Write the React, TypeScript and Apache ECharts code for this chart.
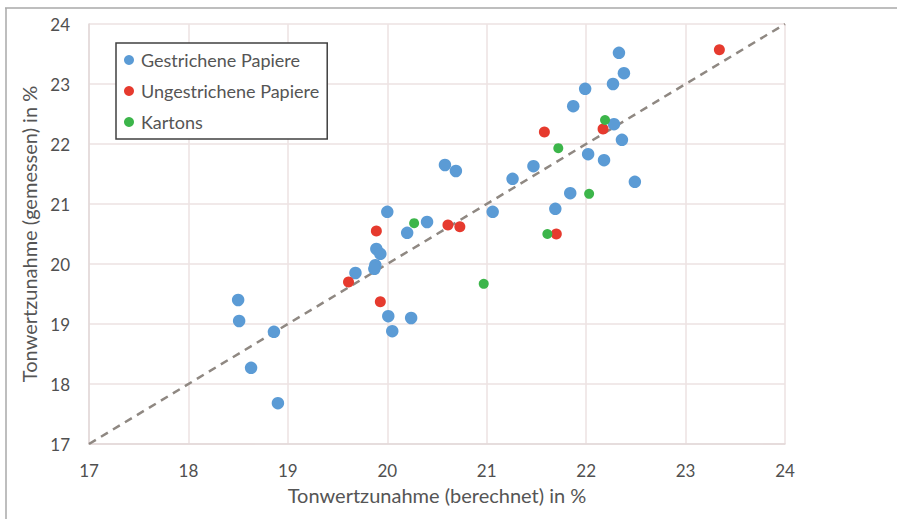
import React, { useEffect, useRef } from "react";
import * as echarts from "echarts";

const xTicks = [17, 18, 19, 20, 21, 22, 23, 24];
const seriesNames = ["Gestrichene Papiere", "Ungestrichene Papiere", "Kartons"];

const gestricheneX = [22.33, 22.38, 22.27, 21.99, 21.87, 22.28, 22.36, 22.02, 22.18, 22.49, 21.47, 21.26, 21.84, 21.69, 21.06, 20.58, 20.69, 20.0, 20.4, 20.2, 19.89, 19.93, 19.88, 19.87, 19.68, 18.5, 18.51, 18.86, 18.63, 18.9, 20.01, 20.24, 20.05];
const gestricheneY = [23.52, 23.18, 23.0, 22.92, 22.63, 22.33, 22.07, 21.83, 21.73, 21.37, 21.63, 21.42, 21.18, 20.92, 20.87, 21.65, 21.55, 20.87, 20.7, 20.52, 20.25, 20.17, 19.98, 19.92, 19.85, 19.4, 19.05, 18.87, 18.27, 17.68, 19.13, 19.1, 18.88];

const ungestricheneX = [23.34, 21.58, 22.17, 19.89, 20.61, 20.73, 21.7, 19.61, 19.93];
const ungestricheneY = [23.57, 22.2, 22.25, 20.55, 20.65, 20.62, 20.5, 19.7, 19.37];

const kartonsX = [22.19, 21.72, 22.03, 21.61, 20.27, 20.97];
const kartonsY = [22.4, 21.93, 21.17, 20.5, 20.68, 19.67];

const diagonal = [17, 24];

const zip = (xs: number[], ys: number[]) => xs.map((x, i) => [x, ys[i]]);

export default function App() {
  const ref = useRef<HTMLDivElement>(null);
  useEffect(() => {
    if (!ref.current) return;
    const chart = echarts.init(ref.current, null, { renderer: "svg" });
    const font = "Lato";
    const gridColor = "#ece2e2";
    chart.setOption({
      animation: false,
      backgroundColor: "#ffffff",
      textStyle: { fontFamily: font },
      grid: { left: 89, top: 24, width: 696, height: 420, containLabel: false },
      xAxis: {
        type: "value",
        min: xTicks[0],
        max: xTicks[xTicks.length - 1],
        interval: 1,
        name: "Tonwertzunahme (berechnet) in %",
        nameLocation: "middle",
        nameGap: 41,
        nameTextStyle: { fontSize: 20, color: "#555555", fontFamily: font },
        axisLine: { lineStyle: { color: "#e2d8d8", width: 1.5 } },
        axisTick: { show: false },
        axisLabel: { fontSize: 17, color: "#505050", margin: 18, fontFamily: font },
        splitLine: { lineStyle: { color: gridColor, width: 1.5 } },
      },
      yAxis: {
        type: "value",
        min: 17,
        max: 24,
        interval: 1,
        name: "Tonwertzunahme (gemessen) in %",
        nameLocation: "middle",
        nameGap: 46,
        nameTextStyle: { fontSize: 20, color: "#555555", fontFamily: font },
        axisLine: { show: true, lineStyle: { color: "#e2d8d8", width: 1.5 } },
        axisTick: { show: false },
        axisLabel: { fontSize: 17, color: "#505050", margin: 19, fontFamily: font },
        splitLine: { lineStyle: { color: gridColor, width: 1.5 } },
      },
      legend: {
        orient: "vertical",
        left: 116,
        top: 43,
        padding: [8, 8, 8, 8],
        itemGap: 13,
        itemWidth: 10,
        itemHeight: 10,
        icon: "circle",
        borderColor: "#404040",
        borderWidth: 1.5,
        backgroundColor: "#ffffff",
        textStyle: { fontSize: 18, color: "#555555", fontFamily: font, padding: [0, 0, 0, 2] },
        data: seriesNames,
      },
      graphic: [
        { type: "line", shape: { x1: 5, y1: 8, x2: 897, y2: 8 }, style: { stroke: "#a8a8a8", lineWidth: 1.5 } },
        { type: "line", shape: { x1: 6, y1: 8, x2: 6, y2: 519 }, style: { stroke: "#a8a8a8", lineWidth: 1.5 } },
      ],
      series: [
        {
          type: "line",
          data: [[diagonal[0], diagonal[0]], [diagonal[1], diagonal[1]]],
          symbol: "none",
          lineStyle: { color: "#8f8882", width: 2.5, type: [8, 6] },
          z: 1,
          silent: true,
        },
        {
          name: seriesNames[0],
          type: "scatter",
          data: zip(gestricheneX, gestricheneY),
          symbolSize: 12.5,
          itemStyle: { color: "#5b9bd5", opacity: 1 },
          z: 2,
        },
        {
          name: seriesNames[1],
          type: "scatter",
          data: zip(ungestricheneX, ungestricheneY),
          symbolSize: 11,
          itemStyle: { color: "#e63a2e", opacity: 1 },
          z: 3,
        },
        {
          name: seriesNames[2],
          type: "scatter",
          data: zip(kartonsX, kartonsY),
          symbolSize: 10,
          itemStyle: { color: "#3cb54a", opacity: 1 },
          z: 3,
        },
      ],
    });
    return () => chart.dispose();
  }, []);
  return (
    <div
      ref={ref}
      style={{ position: "fixed", left: 0, top: 0, width: 897, height: 519, background: "#fff" }}
    />
  );
}
